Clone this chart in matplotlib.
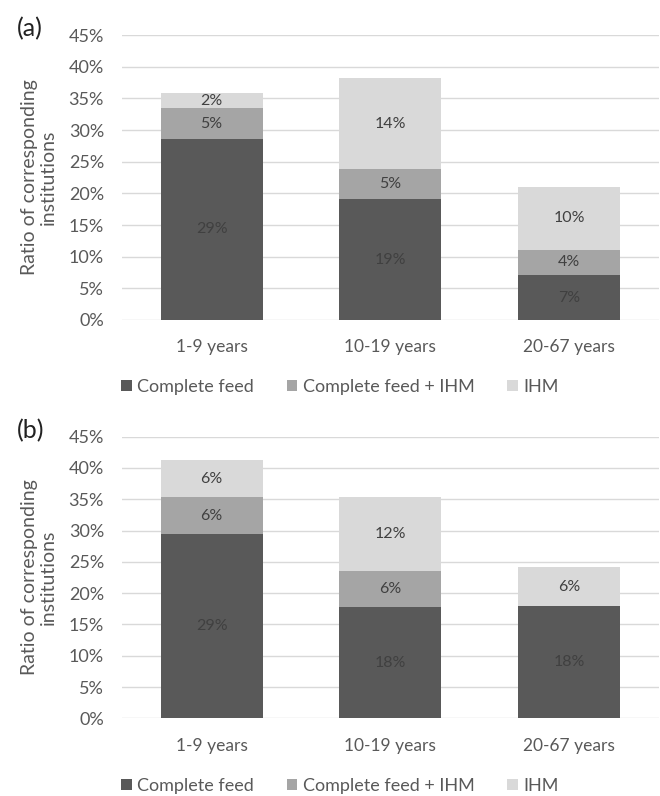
import numpy as np
import matplotlib
matplotlib.use('Agg')
from matplotlib import pyplot as plt

plt.rcParams['font.family'] = ['Lato', 'DejaVu Sans']

groups = ['1-9 years', '10-19 years', '20-67 years']
series = ['Complete feed', 'Complete feed + IHM', 'IHM']
colors = ['#595959', '#a5a5a5', '#d9d9d9']

# values in percent
a_complete = [28.6, 19.1, 7.1]
a_both = [4.8, 4.7, 4.0]
a_ihm = [2.4, 14.4, 9.9]

b_complete = [29.4, 17.75, 18.0]
b_both = [5.95, 5.75, 0.0]
b_ihm = [5.9, 11.85, 6.1]

panels = [('(a)', [a_complete, a_both, a_ihm]),
          ('(b)', [b_complete, b_both, b_ihm])]

fig = plt.figure(figsize=(6.6, 7.96), dpi=100)
axes_pos = [[0.185, 0.598, 0.813, 0.358],
            [0.185, 0.0975, 0.813, 0.354]]
legend_y = [0.514, 0.013]

x = np.arange(len(groups))
for i, (tag, data) in enumerate(panels):
    ax = fig.add_axes(axes_pos[i])
    bottom = np.zeros(len(groups))
    for vals, name, col in zip(data, series, colors):
        vals = np.array(vals)
        ax.bar(x, vals, 0.57, bottom=bottom, color=col, label=name, zorder=3)
        for xi, v, b in zip(x, vals, bottom):
            if v > 0:
                ax.text(xi, b + v / 2, '%d%%' % round(v), ha='center', va='center',
                        fontsize=11.5, color='#404040', zorder=4)
        bottom += vals

    ax.set_xlim(-0.5, 2.5)
    ax.set_ylim(0, 45)
    ax.set_yticks(range(0, 50, 5))
    ax.set_yticklabels(['%d%%' % t for t in range(0, 50, 5)])
    ax.set_xticks(x)
    ax.set_xticklabels(groups)
    ax.grid(axis='y', color='#d9d9d9', linewidth=1, zorder=0)
    for s in ax.spines.values():
        s.set_visible(False)
    ax.tick_params(axis='both', length=0, colors='#595959')
    ax.tick_params(axis='y', labelsize=13, pad=13)
    ax.tick_params(axis='x', labelsize=12.5, pad=14)
    ax.set_ylabel('Ratio of corresponding\ninstitutions', fontsize=14,
                  color='#595959', linespacing=1.15)
    ax.yaxis.set_label_coords(-0.121, 0.5)
    fig.text(0.025, axes_pos[i][1] + axes_pos[i][3] + 0.008, tag, fontsize=18,
             color='#222222', va='center')

    fig.legend(handles=ax.containers, labels=series, loc='center',
               bbox_to_anchor=(0.515, legend_y[i]), ncol=3, frameon=False,
               fontsize=13, handlelength=0.6, handleheight=0.6, handletextpad=0.3,
               columnspacing=1.8, labelcolor='#595959')

plt.savefig('out.png', dpi=100)
